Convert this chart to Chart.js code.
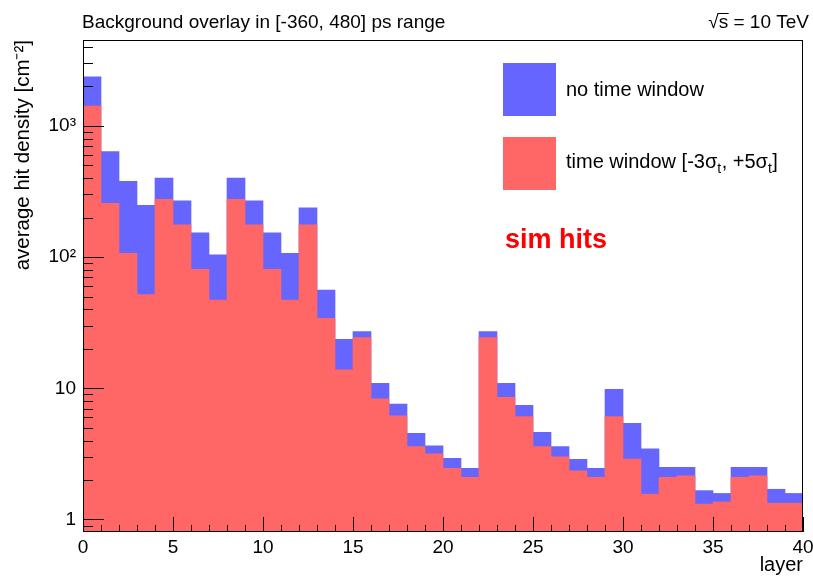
<!DOCTYPE html>
<html>
<head>
<meta charset="utf-8">
<script src="https://cdn.jsdelivr.net/npm/chart.js@4.4.1/dist/chart.umd.min.js"></script>
<style>
html,body{margin:0;padding:0;background:#fff;}
#wrap{width:813px;height:576px;}
</style>
</head>
<body>
<div id="wrap"><canvas id="c" width="813" height="576"></canvas></div>
<script>
// ---- data ----
const layers = [0,1,2,3,4,5,6,7,8,9,10,11,12,13,14,15,16,17,18,19,20,21,22,23,24,25,26,27,28,29,30,31,32,33,34,35,36,37,38,39];
const noTimeWindow = [2370,636,378,248,401,269,153,104,401,269,153,107,237,56.1,23.6,27.0,10.9,7.59,4.54,3.65,2.93,2.46,27.0,10.9,7.42,4.62,3.59,2.88,2.46,9.83,5.41,3.45,2.50,2.50,1.66,1.58,2.50,2.50,1.70,1.58];
const timeWindow   = [1418,257,107,51.7,276,176,80.7,47.1,276,176,80.7,47.0,176,34.2,13.8,24.3,8.33,6.18,3.59,3.16,2.46,2.10,24.3,8.54,6.08,3.59,3.01,2.35,2.10,6.08,2.89,1.56,2.10,2.15,1.31,1.36,2.10,2.15,1.33,1.33];
const xTickValues = [0,5,10,15,20,25,30,35,40];
const yTickValues = [1,10,100,1000];
const yTickLabels = ['1','10','10\u00B2','10\u00B3'];
const seriesLabels = ['no time window','time window [-3\u03C3t, +5\u03C3t]'];
const titleText = 'Background overlay in [-360, 480] ps range';
const energyText = ' = 10 TeV';
const xTitle = 'layer';
const yTitle = 'average hit density [cm\u207B\u00B2]';
const annotationText = 'sim hits';

const FONT = '"Liberation Sans", Arial, Helvetica, sans-serif';
const BLUE = '#6666ff';
const RED = '#ff6666';

const rootPlugin = {
  id: 'rootStyle',
  afterDatasetsDraw(chart) {
    const {ctx, chartArea: a, scales: {x, y}} = chart;
    ctx.save();
    ctx.strokeStyle = '#000';
    ctx.lineWidth = 1;
    // inward y ticks (log: majors at decades, minors at 2..9)
    const dLo = Math.floor(Math.log10(y.min)), dHi = Math.ceil(Math.log10(y.max));
    ctx.beginPath();
    for (let d = dLo; d <= dHi; d++) {
      for (let k = 1; k <= 9; k++) {
        const v = k * Math.pow(10, d);
        if (v < y.min || v > y.max) continue;
        const py = Math.round(y.getPixelForValue(v)) + 0.5;
        const len = k === 1 ? 21 : 10;
        ctx.moveTo(a.left, py); ctx.lineTo(a.left + len, py);
      }
    }
    // inward x ticks
    for (let i = x.min; i <= x.max; i++) {
      const px = Math.round(x.getPixelForValue(i)) + 0.5;
      const len = i % 5 === 0 ? 15 : 7;
      ctx.moveTo(px, a.bottom); ctx.lineTo(px, a.bottom - len);
    }
    ctx.stroke();
    // frame
    ctx.lineWidth = 1;
    ctx.strokeRect(Math.round(a.left) + 0.5, Math.round(a.top) + 0.5, Math.round(a.right - a.left) - 1, Math.round(a.bottom - a.top) - 1);
    ctx.restore();
  },
  afterDraw(chart) {
    const {ctx} = chart;
    ctx.save();
    ctx.fillStyle = '#000';
    ctx.textBaseline = 'alphabetic';
    ctx.textAlign = 'left';
    // title
    ctx.font = '19px ' + FONT;
    ctx.fillText(titleText, 82, 28);
    // sqrt(s) = 10 TeV, right aligned
    const wRad = ctx.measureText('\u221A').width;
    const wS = ctx.measureText('s').width;
    const wRest = ctx.measureText(energyText).width;
    const xEnd = 809;
    const x0 = xEnd - wRest - wS - wRad;
    ctx.fillText('\u221A', x0, 28);
    ctx.fillText('s', x0 + wRad, 28);
    ctx.fillText(energyText, x0 + wRad + wS, 28);
    ctx.beginPath();
    ctx.lineWidth = 1;
    ctx.strokeStyle = '#000';
    ctx.moveTo(x0 + wRad - 1, 13.5); ctx.lineTo(x0 + wRad + wS + 0.5, 13.5);
    ctx.stroke();

    // legend
    const ds = chart.data.datasets;
    const boxX = 503, boxW = 53, boxH = 53;
    const rows = [63, 137];
    ctx.font = '20px ' + FONT;
    ctx.textBaseline = 'middle';
    // row 1
    ctx.fillStyle = ds[0].backgroundColor;
    ctx.fillRect(boxX, rows[0], boxW, boxH);
    ctx.fillStyle = '#000';
    ctx.fillText(ds[0].label, 566, rows[0] + boxH / 2 + 1);
    // row 2 with subscripts
    ctx.fillStyle = ds[1].backgroundColor;
    ctx.fillRect(boxX, rows[1], boxW, boxH);
    ctx.fillStyle = '#000';
    const lab = ds[1].label; // 'time window [-3σt, +5σt]'
    const parts = [];
    {
      let buf = '';
      for (let i = 0; i < lab.length; i++) {
        const ch = lab[i];
        if (ch === 't' && lab[i - 1] === '\u03C3') {
          parts.push([buf, false]); buf = '';
          parts.push(['t', true]);
        } else buf += ch;
      }
      if (buf) parts.push([buf, false]);
    }
    let tx = 566;
    const ty = rows[1] + boxH / 2 - 1;
    for (const [s, sub] of parts) {
      ctx.font = (sub ? '14px ' : '20px ') + FONT;
      ctx.fillText(s, tx, sub ? ty + 7 : ty);
      tx += ctx.measureText(s).width + (sub ? 0.5 : 0);
    }

    // annotation
    ctx.textBaseline = 'alphabetic';
    ctx.fillStyle = '#ff0000';
    ctx.font = 'bold 27px ' + FONT;
    ctx.fillText(annotationText, 505, 248);
    ctx.restore();
  }
};

new Chart(document.getElementById('c'), {
  type: 'bar',
  data: {
    datasets: [
      { label: seriesLabels[0], data: layers.map((l, i) => ({x: l + 0.5, y: noTimeWindow[i]})),
        backgroundColor: BLUE, borderWidth: 0, order: 2 },
      { label: seriesLabels[1], data: layers.map((l, i) => ({x: l + 0.5, y: timeWindow[i]})),
        backgroundColor: RED, borderWidth: 0, order: 1 }
    ]
  },
  options: {
    responsive: false,
    animation: false,
    devicePixelRatio: 1,
    layout: { padding: { left: 0, top: 40, right: 10, bottom: 0 } },
    datasets: { bar: { grouped: false, barPercentage: 1, categoryPercentage: 1 } },
    plugins: { legend: { display: false }, title: { display: false }, tooltip: { enabled: false } },
    scales: {
      x: {
        type: 'linear', min: 0, max: 40, offset: false,
        grid: { display: false, drawTicks: false },
        border: { display: false },
        afterBuildTicks: s => { s.ticks = xTickValues.map(v => ({value: v})); },
        ticks: { padding: 4, color: '#000', maxRotation: 0, autoSkip: false, font: { family: FONT, size: 19 } },
        title: { display: true, text: xTitle, align: 'end', color: '#000', font: { family: FONT, size: 20 }, padding: { top: 0, bottom: -1 } },
        afterFit: s => { s.height = 44; s.paddingLeft = 0; s.paddingRight = 0; }
      },
      y: {
        type: 'logarithmic', min: 0.803, max: 4515,
        grid: { display: false, drawTicks: false },
        border: { display: false },
        afterBuildTicks: s => { s.ticks = yTickValues.map(v => ({value: v})); },
        ticks: { padding: 7, color: '#000', font: { family: FONT, size: 19 },
          callback: v => { const i = yTickValues.indexOf(v); return i >= 0 ? yTickLabels[i] : ''; } },
        title: { display: true, text: yTitle, align: 'end', color: '#000', font: { family: FONT, size: 20.5 }, padding: { top: 11, bottom: 0 } },
        afterFit: s => { s.width = 83; s.paddingTop = 0; s.paddingBottom = 0; }
      }
    }
  },
  plugins: [rootPlugin]
});
</script>
</body>
</html>
